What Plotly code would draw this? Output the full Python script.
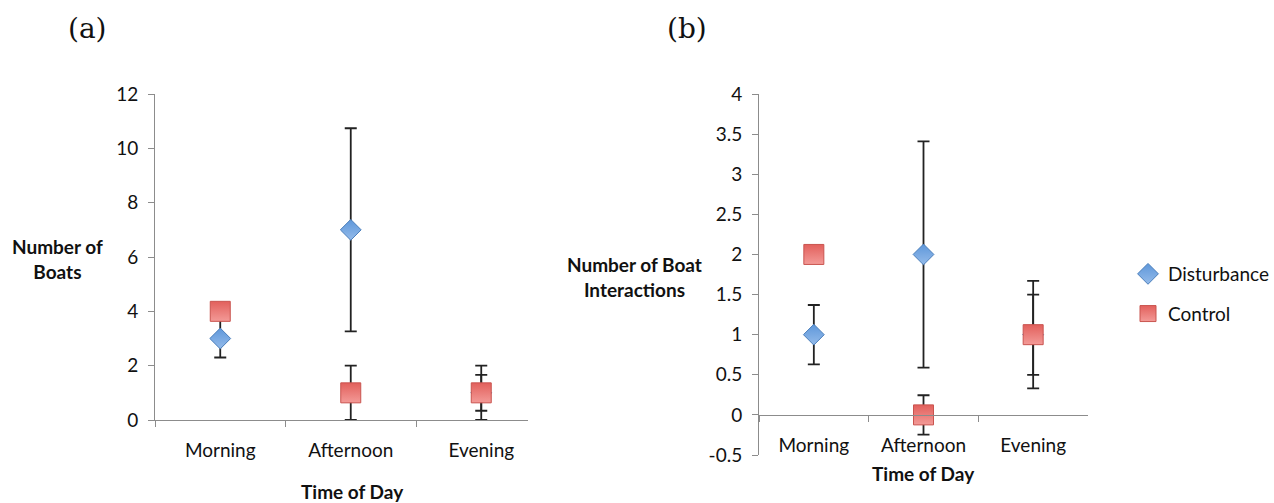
import plotly.graph_objects as go

# Categories
times = ["Morning", "Afternoon", "Evening"]
pos = [0, 1, 2]

# (a) Number of boats
boats_dist = [3, 7, 1]
boats_dist_err = [0.7, 3.74, 0.66]
boats_ctrl = [4, 1, 1]
boats_ctrl_err = [0, 1, 1]

# (b) Number of boat interactions
inter_dist = [1, 2, 1]
inter_dist_err = [0.37, 1.41, 0.67]
inter_ctrl = [2, 0, 1]
inter_ctrl_err = [0, 0.245, 0.5]

W, H = 1274, 503
FONT = "Lato"
AXIS_GRAY = "#8c8c8c"
ERR_COLOR = "#222222"


def py(p):
    """pixel row -> paper y"""
    return 1 - p / H


def px(p):
    return p / W


dist_marker = dict(symbol="diamond", size=16, color="#5e97da",
                   line=dict(color="#4a7ebb", width=1),
                   gradient=dict(type="vertical", color="#94bbea"))
ctrl_marker = dict(symbol="square", size=20, color="#e2605c",
                   line=dict(color="#c9544f", width=1),
                   gradient=dict(type="vertical", color="#f39a97"))


def err(arr):
    return dict(type="data", array=arr, visible=True, color=ERR_COLOR,
                thickness=1.8, width=6)


fig = go.Figure()

fig.add_trace(go.Scatter(x=pos, y=boats_dist, mode="markers", name="Disturbance",
                         marker=dist_marker, error_y=err(boats_dist_err),
                         xaxis="x", yaxis="y", showlegend=False))
fig.add_trace(go.Scatter(x=pos, y=boats_ctrl, mode="markers", name="Control",
                         marker=ctrl_marker, error_y=err(boats_ctrl_err),
                         xaxis="x", yaxis="y", showlegend=False))
fig.add_trace(go.Scatter(x=pos, y=inter_dist, mode="markers", name="Disturbance",
                         marker=dist_marker, error_y=err(inter_dist_err),
                         xaxis="x2", yaxis="y2", legendgroup="d"))
fig.add_trace(go.Scatter(x=pos, y=inter_ctrl, mode="markers", name="Control",
                         marker=ctrl_marker, error_y=err(inter_ctrl_err),
                         xaxis="x2", yaxis="y2", legendgroup="c"))

tickfont = dict(family=FONT, size=19, color="#111111")
minor_x = dict(tickvals=[-0.5, 0.5, 1.5], ticks="outside", ticklen=6,
               tickcolor=AXIS_GRAY, tickwidth=1, showgrid=False)

common_y = dict(showgrid=False, zeroline=False, showline=True, linecolor=AXIS_GRAY,
                linewidth=1, ticks="outside", ticklen=6, tickcolor=AXIS_GRAY,
                tickfont=tickfont, ticklabelstandoff=6, automargin=False)
common_x = dict(showgrid=False, zeroline=False, showline=True, linecolor=AXIS_GRAY,
                linewidth=1, tickvals=pos, ticktext=times, ticks="",
                tickfont=tickfont, minor=minor_x, ticklabelstandoff=13, automargin=False)

fig.update_layout(
    width=W, height=H,
    margin=dict(l=0, r=0, t=0, b=0, pad=0, autoexpand=False),
    paper_bgcolor="white", plot_bgcolor="white",
    xaxis=dict(domain=[px(155), px(528)], range=[-0.5, -0.5 + 373 / 130.5],
               anchor="y", **common_x),
    yaxis=dict(domain=[py(420), py(94)], range=[0, 12], tickvals=[0, 2, 4, 6, 8, 10, 12],
               anchor="x", **common_y),
    xaxis2=dict(domain=[px(759), px(1088)], range=[-0.5, 2.5],
                anchor="free", position=py(415), **common_x),
    yaxis2=dict(domain=[py(455), py(94)], range=[-0.5, 4],
                tickvals=[-0.5, 0, 0.5, 1, 1.5, 2, 2.5, 3, 3.5, 4],
                ticktext=["-0.5", "0", "0.5", "1", "1.5", "2", "2.5", "3", "3.5", "4"],
                anchor="x2", **common_y),
    legend=dict(x=px(1128), y=py(255), xanchor="left", yanchor="top",
                font=dict(family=FONT, size=19, color="#111111"),
                tracegroupgap=12, itemwidth=30, bgcolor="rgba(0,0,0,0)"),
)

annotations = [
    dict(text="(a)", x=px(87), y=py(29), font=dict(family="DejaVu Serif", size=28, color="#111")),
    dict(text="(b)", x=px(687), y=py(29), font=dict(family="DejaVu Serif", size=28, color="#111")),
    dict(text="<b>Number of<br>Boats</b>", x=px(57), y=py(259),
         font=dict(family=FONT, size=19, color="#111")),
    dict(text="<b>Number of Boat<br>Interactions</b>", x=px(634), y=py(277),
         font=dict(family=FONT, size=19, color="#111")),
    dict(text="<b>Time of Day</b>", x=px(352), y=py(491),
         font=dict(family=FONT, size=19, color="#111")),
    dict(text="<b>Time of Day</b>", x=px(923), y=py(473),
         font=dict(family=FONT, size=19, color="#111")),
]
for a in annotations:
    a.update(xref="paper", yref="paper", showarrow=False, xanchor="center", yanchor="middle")
fig.update_layout(annotations=annotations)

fig.write_html("out.html")
